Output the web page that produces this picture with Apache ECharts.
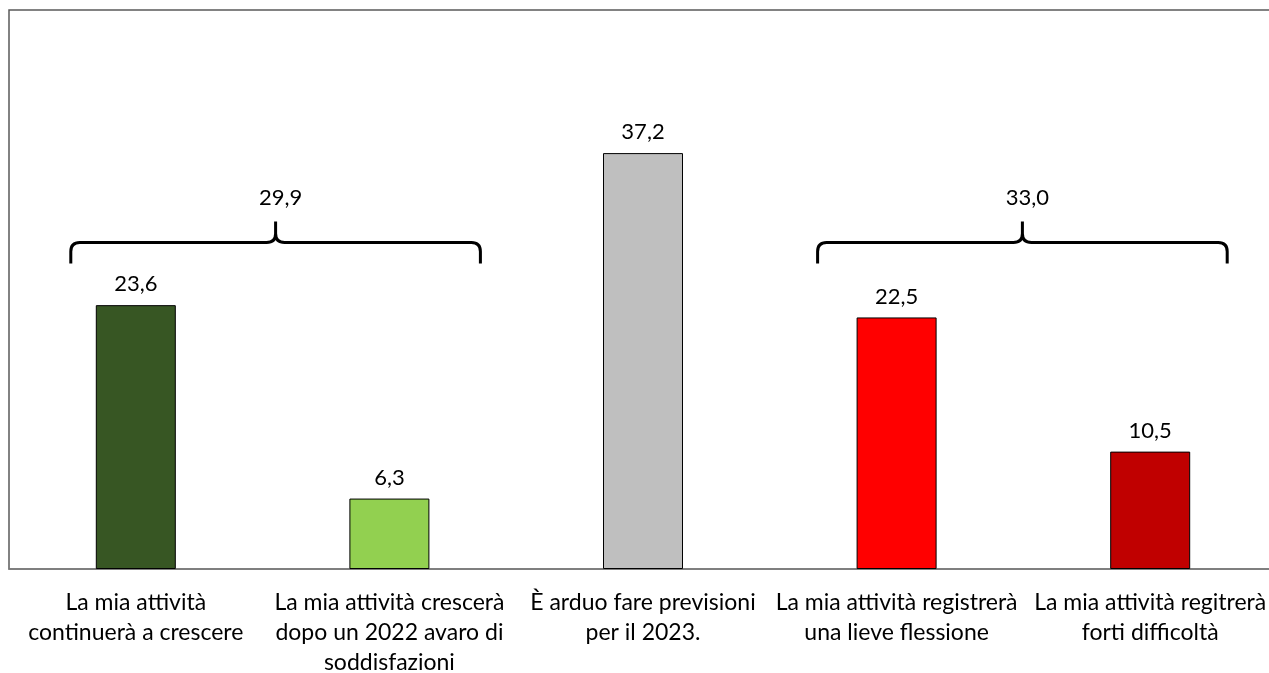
<!DOCTYPE html>
<html>
<head>
<meta charset="utf-8">
<script src="https://cdn.jsdelivr.net/npm/echarts@6/dist/echarts.min.js"></script>
<style>
  html, body { margin: 0; padding: 0; background: #fff; }
  #chart { width: 1269px; height: 673px; }
</style>
</head>
<body>
<div id="chart"></div>
<script>
// Aspettative per il 2023
const categories = [
  'La mia attività\ncontinuerà a crescere',
  'La mia attività crescerà\ndopo un 2022 avaro di\nsoddisfazioni',
  'È arduo fare previsioni\nper il 2023.',
  'La mia attività registrerà\nuna lieve flessione',
  'La mia attività regitrerà\nforti difficoltà'
];
const values = [23.6, 6.3, 37.2, 22.5, 10.5];
const barColors = ['#375623', '#92D050', '#BFBFBF', '#FF0000', '#C00000'];

// Graffe che raggruppano le risposte positive e negative
const groupFrom = [0, 3];
const groupTo = [1, 4];
const groupTotals = [29.9, 33.0];

const fmt = v => v.toFixed(1).replace('.', ',');
const FONT = 'Lato, "Open Sans", sans-serif';

// sporgenza delle graffe oltre il centro delle barre estreme (px)
const BRACE_OUT_LEFT = [65, 79];
const BRACE_OUT_RIGHT = [91, 77];

const chart = echarts.init(document.getElementById('chart'), null, { renderer: 'canvas' });

chart.setOption({
  animation: false,
  backgroundColor: '#fff',
  grid: {
    left: 9, right: -8, top: 10, bottom: 104,
    outerBoundsMode: 'none',
    containLabel: false,
    show: true, borderColor: '#595959', borderWidth: 1.5
  },
  xAxis: {
    type: 'category',
    data: categories,
    axisLine: { lineStyle: { color: '#7f7f7f', width: 1.5 } },
    axisTick: { show: false },
    axisLabel: {
      interval: 0, margin: 19, lineHeight: 30,
      color: '#000', fontSize: 23, fontFamily: FONT
    }
  },
  yAxis: {
    type: 'value', min: 0, max: 50, interval: 10,
    show: false, splitLine: { show: false }
  },
  series: [
    {
      type: 'bar',
      barWidth: 80,
      data: values.map((v, i) => ({
        value: v,
        itemStyle: { color: barColors[i], borderColor: '#000', borderWidth: 1 }
      })),
      label: {
        show: true, position: 'top', distance: 10,
        formatter: p => fmt(p.value),
        color: '#000', fontSize: 22, fontFamily: FONT
      },
      z: 2
    },
    {
      type: 'custom',
      data: groupTotals.map((t, i) => [groupFrom[i], groupTo[i], t]),
      renderItem: function (params, api) {
        const i = params.dataIndex;
        const level = 29.2;
        const xa = api.coord([api.value(0), level])[0] - BRACE_OUT_LEFT[i];
        const xb = api.coord([api.value(1), level])[0] + BRACE_OUT_RIGHT[i];
        const yl = api.coord([0, level])[1];
        const xm = (xa + xb) / 2;
        const yb = yl + 21, yt = yl - 21, r = 9;
        const d =
          `M${xa},${yb} L${xa},${yl + r} Q${xa},${yl} ${xa + r},${yl} ` +
          `L${xm - r},${yl} Q${xm},${yl} ${xm},${yl - r} L${xm},${yt} ` +
          `M${xm},${yl - r} Q${xm},${yl} ${xm + r},${yl} ` +
          `L${xb - r},${yl} Q${xb},${yl} ${xb},${yl + r} L${xb},${yb}`;
        return {
          type: 'group',
          children: [
            {
              type: 'path',
              shape: { pathData: d },
              style: { fill: 'none', stroke: '#000', lineWidth: 3 }
            },
            {
              type: 'text',
              x: xm + 5, y: yl - 45,
              style: {
                text: fmt(api.value(2)),
                fill: '#000', font: '22px ' + FONT,
                align: 'center', verticalAlign: 'middle'
              }
            }
          ]
        };
      },
      z: 3
    }
  ]
});
</script>
</body>
</html>
